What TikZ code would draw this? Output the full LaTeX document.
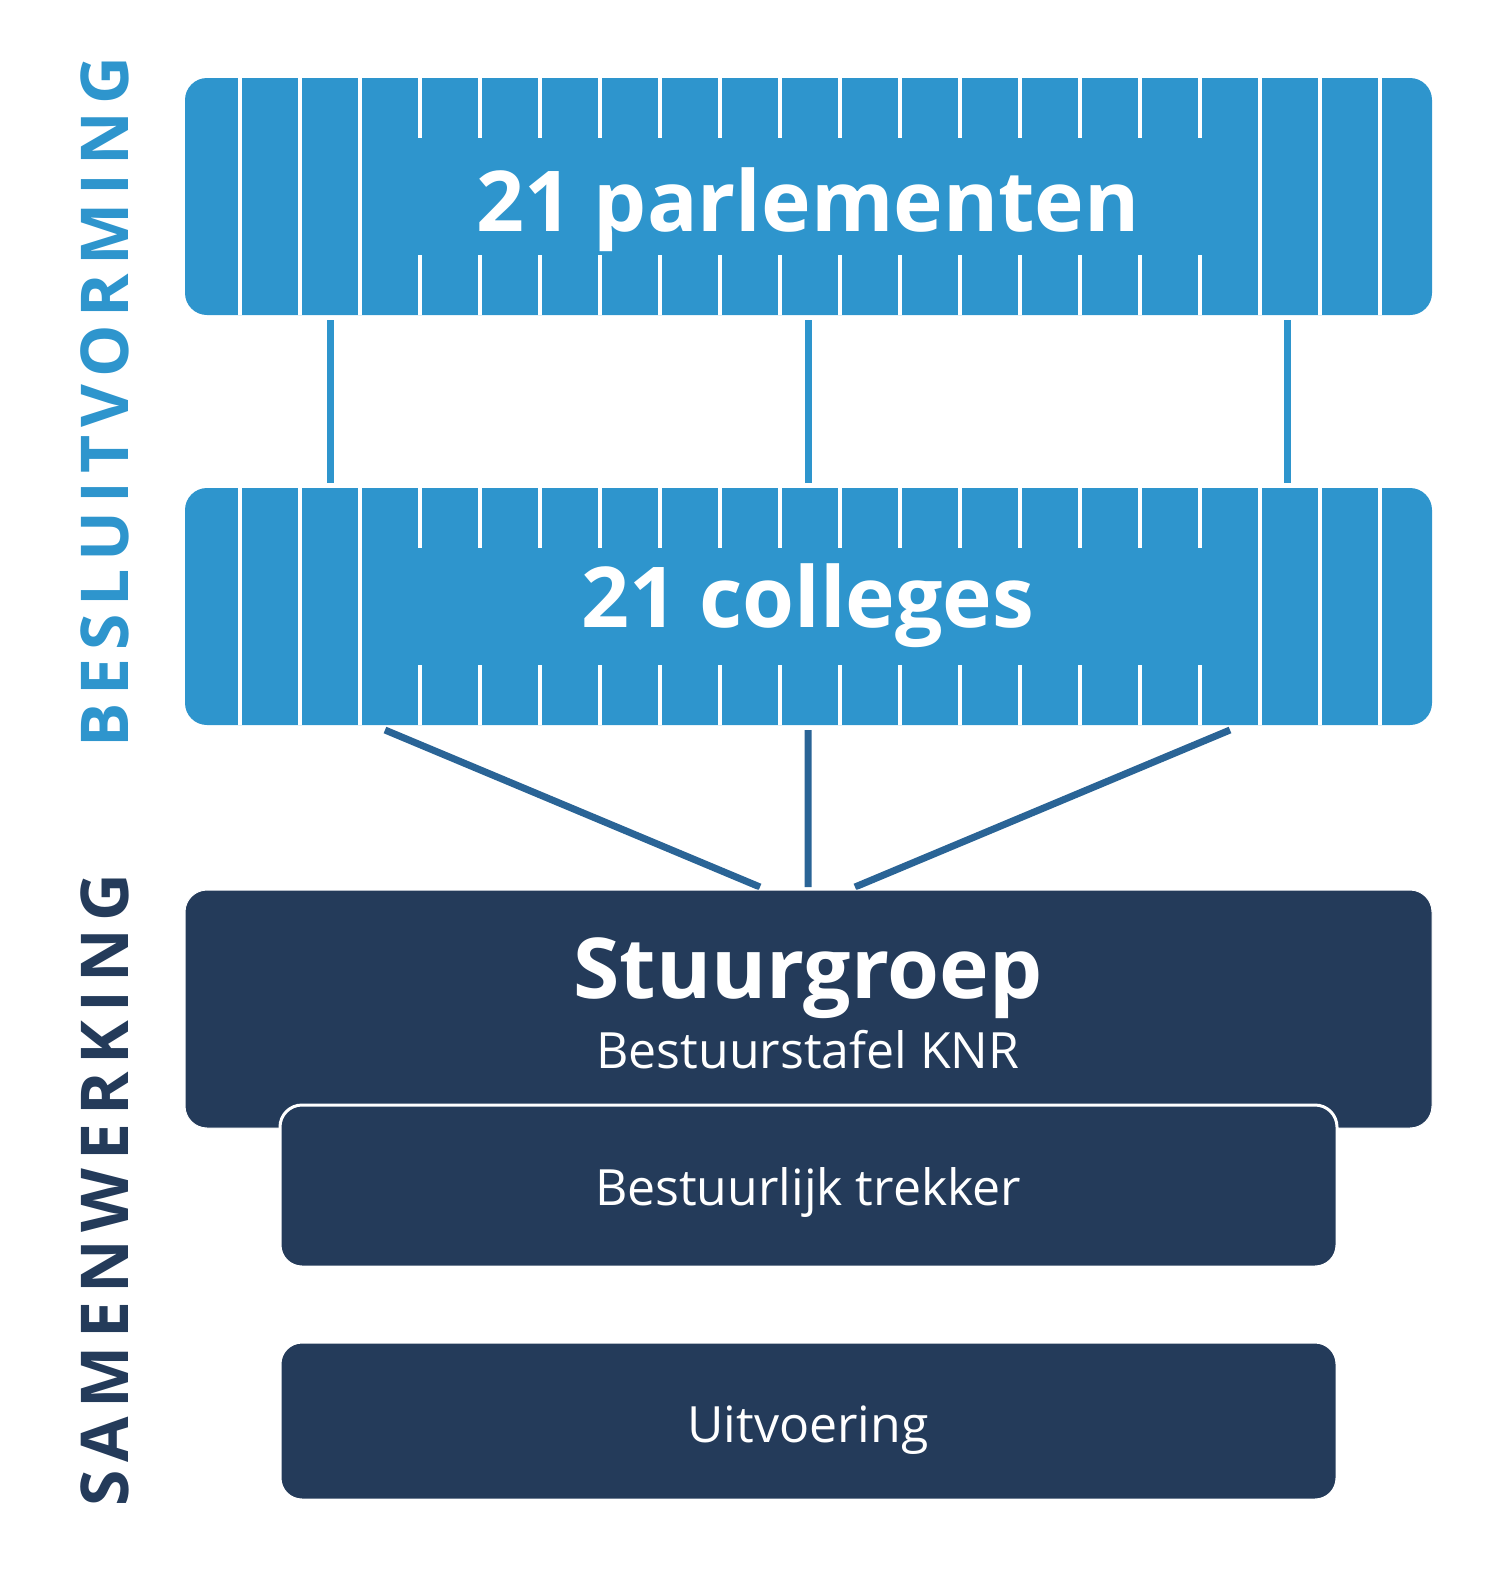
\documentclass[tikz,border=0pt]{standalone}
\usepackage{fontspec}
\setmainfont{Open Sans}
\definecolor{lblue}{HTML}{2E95CD}
\definecolor{mblue}{HTML}{2A6496}
\definecolor{dblue}{HTML}{243B5A}
\begin{document}
\begin{tikzpicture}[x=1pt,y=-1pt,
  bar/.style={rounded corners=22pt,fill=lblue},
  dbox/.style={rounded corners=22pt,fill=dblue,draw=white,line width=3pt},
  sep/.style={white,line width=4pt},
  conn/.style={line width=7pt},
  title/.style={text=white,font=\bfseries\fontsize{84}{90}\selectfont},
  sub/.style={text=white,font=\fontsize{50}{56}\selectfont}]
\useasboundingbox (0,0) rectangle (1500,1572);
% top bar
\foreach \yy/\nm in {78/top,488/mid}{
  \fill[bar] (185,\yy) rectangle ++(1247,237);
  \foreach \xx in {240,300,360,1260,1320,1380}
    \draw[sep] (\xx,\yy) -- ++(0,237);
  \foreach \xx in {420,480,...,1200}{
    \draw[sep] (\xx,\yy) -- ++(0,60);
    \draw[sep] (\xx,\yy+177) -- ++(0,60);}
}
\node[title] (parl) at (808,210) {21 parlementen};
\node[title] (coll) at (808,606) {21 colleges};
\coordinate (t1) at (330,320); \coordinate (m1) at (330,483);
\coordinate (t2) at (808,320); \coordinate (m2) at (808,483);
\coordinate (t3) at (1287,320); \coordinate (m3) at (1287,483);
\draw[conn,lblue] (t1)--(m1) (t2)--(m2) (t3)--(m3);
\coordinate (b1) at (385,730); \coordinate (s1) at (760,887);
\coordinate (b2) at (808,730); \coordinate (s2) at (808,887);
\coordinate (b3) at (1230,730); \coordinate (s3) at (855,887);
\draw[conn,mblue] (b1)--(s1) (b2)--(s2) (b3)--(s3);
% dark boxes
\draw[dbox,line width=1pt] (185,890) rectangle (1432,1128);
\node[title] (stuur) at (808,978) {Stuurgroep};
\node[sub] (knr) at (808,1050) {Bestuurstafel KNR};
\draw[dbox] (280,1105) rectangle (1337,1267);
\node[sub] (trek) at (808,1192) {Bestuurlijk trekker};
\draw[dbox] (280,1342) rectangle (1337,1500);
\node[sub] (uit) at (808,1430) {Uitvoering};
% side labels
\node[rotate=90,text=lblue,font=\bfseries\fontsize{66}{70}\selectfont\addfontfeature{LetterSpace=12}] (besl) at (105,402) {BESLUITVORMING};
\node[rotate=90,text=dblue,font=\bfseries\fontsize{66}{70}\selectfont\addfontfeature{LetterSpace=12}] (samen) at (105,1190) {SAMENWERKING};
\end{tikzpicture}
\end{document}
